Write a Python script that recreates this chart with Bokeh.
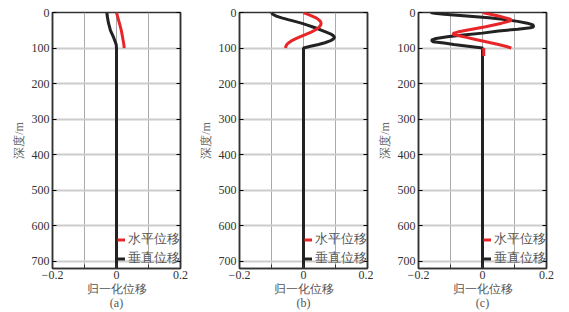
from bokeh.plotting import figure
from bokeh.layouts import row
from bokeh.models import (Range1d, FixedTicker, LinearAxis, Legend, LegendItem,
                          CustomJSTickFormatter)
from bokeh.embed import file_html
from bokeh.resources import INLINE

# ---------------- data ----------------
x_label = "归一化位移"
y_label = "深度/m"
legend_h = "水平位移"
legend_v = "垂直位移"
panel_tags = ["(a)", "(b)", "(c)"]
x_ticks = [-0.2, 0, 0.2]
x_minor = [-0.1, 0.1]
y_ticks = [0, 100, 200, 300, 400, 500, 600, 700]

# panel (a)
a_h_depth = [0, 10, 20, 30, 40, 50, 60, 70, 80, 90, 100]
a_h_disp = [0, 0.003, 0.006, 0.009, 0.012, 0.015, 0.017, 0.019, 0.021, 0.023, 0.024]
a_v_depth = [0, 10, 20, 30, 40, 50, 60, 70, 80, 90, 100, 720]
a_v_disp = [-0.030, -0.029, -0.027, -0.025, -0.022, -0.019, -0.014, -0.009, -0.005, -0.001, 0, 0]

# panel (b)
b_h_depth = [0, 5, 10, 15, 20, 25, 30, 35, 40, 45, 50, 55, 60, 65, 70, 75, 80, 85, 90, 95, 100]
b_h_disp = [0, 0.014, 0.027, 0.039, 0.047, 0.053, 0.055, 0.054, 0.050, 0.044, 0.035, 0.024,
            0.011, -0.002, -0.015, -0.027, -0.038, -0.046, -0.052, -0.055, -0.056]
b_v_depth = [0, 5, 10, 15, 20, 25, 30, 35, 40, 45, 50, 55, 60, 65, 70, 75, 80, 85, 90, 95, 100, 720]
b_v_disp = [-0.100, -0.096, -0.085, -0.068, -0.048, -0.027, -0.007, 0.010, 0.027, 0.043, 0.057,
            0.071, 0.084, 0.093, 0.097, 0.093, 0.083, 0.067, 0.047, 0.022, 0, 0]

# panel (c)
c_h_depth = [0, 5, 10, 15, 19, 22, 25, 30, 35, 40, 45, 50, 55, 59, 62, 66, 70, 75, 80, 85, 90, 95, 100]
c_h_disp = [0, 0.025, 0.050, 0.072, 0.087, 0.090, 0.082, 0.060, 0.035, 0.010, -0.020, -0.050,
            -0.078, -0.092, -0.090, -0.070, -0.050, -0.025, 0.0, 0.025, 0.050, 0.072, 0.090]
c_h2_depth = [100, 122]
c_h2_disp = [0.004, 0.004]
c_v_depth = [0, 2, 5, 10, 15, 20, 25, 30, 35, 40, 43, 47, 52, 58, 63, 68, 73, 78, 82, 86, 90, 95, 100, 720]
c_v_disp = [-0.162, -0.150, -0.120, -0.050, 0.020, 0.070, 0.110, 0.140, 0.158, 0.160, 0.150, 0.110,
            0.050, 0.0, -0.060, -0.110, -0.145, -0.160, -0.155, -0.120, -0.090, -0.045, 0, 0]

RED = "#e8262a"
BLACK = "#222222"
SERIF = "Liberation Serif"

fmt = CustomJSTickFormatter(code="""
if (Math.abs(tick) < 1e-9) return '0';
return (tick < 0 ? '\u2212' : '') + Math.abs(tick).toFixed(1);
""")
blank = CustomJSTickFormatter(code="return '';")


def make_panel(h_sets, v_d, v_x, tag, left, right):
    p = figure(width=left + 128 + right, height=312,
               x_range=Range1d(-0.2, 0.2), y_range=Range1d(720, 0),
               output_backend="svg", toolbar_location=None,
               min_border_left=left, min_border_right=right,
               min_border_top=12, min_border_bottom=40)
    p.background_fill_color = "white"
    p.border_fill_color = "white"
    p.outline_line_color = "#333333"
    p.outline_line_width = 1.5

    # x axis
    xa = p.xaxis[0]
    xa.ticker = FixedTicker(ticks=x_ticks, minor_ticks=x_minor)
    xa.formatter = fmt
    xa.major_tick_in = 4
    xa.major_tick_out = 0
    xa.minor_tick_in = 4
    xa.minor_tick_out = 0
    xa.major_label_standoff = 2
    xa.major_label_text_font = SERIF
    xa.major_label_text_font_size = "12px"
    xa.major_label_text_color = "#333333"
    xa.axis_line_color = "#333333"
    xa.axis_line_width = 1.5
    xa.major_tick_line_color = "#333333"
    xa.minor_tick_line_color = "#333333"
    xa.axis_label = x_label + "\n" + tag
    xa.axis_label_text_font = SERIF
    xa.axis_label_text_font_size = "12px"
    xa.axis_label_text_font_style = "normal"
    xa.axis_label_text_color = "#555555"
    xa.axis_label_text_line_height = 1.0
    xa.axis_label_standoff = 0

    # y axis
    ya = p.yaxis[0]
    ya.ticker = FixedTicker(ticks=y_ticks)
    ya.major_tick_in = 4
    ya.major_tick_out = 0
    ya.minor_tick_line_color = None
    ya.major_label_standoff = 3
    ya.major_label_text_font = SERIF
    ya.major_label_text_font_size = "12px"
    ya.major_label_text_color = "#333333"
    ya.axis_line_color = "#333333"
    ya.axis_line_width = 1.5
    ya.axis_label = y_label
    ya.axis_label_text_font = SERIF
    ya.axis_label_text_font_size = "12px"
    ya.axis_label_text_font_style = "normal"
    ya.axis_label_text_color = "#666666"
    ya.axis_label_standoff = 3

    # right axis (ticks only)
    ra = LinearAxis(ticker=FixedTicker(ticks=y_ticks), formatter=blank,
                    major_tick_in=4, major_tick_out=0,
                    minor_tick_line_color=None, major_label_standoff=0,
                    axis_line_color="#333333", axis_line_width=1.5)
    p.add_layout(ra, "right")

    # grids
    p.xgrid.ticker = FixedTicker(ticks=[-0.1, 0, 0.1])
    p.xgrid.grid_line_color = "#aaaaaa"
    p.xgrid.grid_line_width = 1
    p.ygrid.ticker = FixedTicker(ticks=y_ticks)
    p.ygrid.grid_line_color = "#cccccc"
    p.ygrid.grid_line_width = 2

    # lines
    rv = p.line(v_x, v_d, line_color=BLACK, line_width=3)
    rh = None
    for hd, hx in h_sets:
        r = p.line(hx, hd, line_color=RED, line_width=3)
        if rh is None:
            rh = r

    leg = Legend(items=[LegendItem(label=legend_h, renderers=[rh]),
                        LegendItem(label=legend_v, renderers=[rv])],
                 location="bottom_right", orientation="vertical",
                 background_fill_alpha=0, border_line_color=None,
                 margin=0, padding=2, spacing=0,
                 glyph_width=8, glyph_height=19, label_height=19,
                 label_standoff=3,
                 label_text_font=SERIF, label_text_font_size="12.5px",
                 label_text_color="#555555")
    p.add_layout(leg, "center")
    return p


pa = make_panel([(a_h_depth, a_h_disp)], a_v_depth, a_v_disp, panel_tags[0], 52, 13)
pb = make_panel([(b_h_depth, b_h_disp)], b_v_depth, b_v_disp, panel_tags[1], 46, 6)
pc = make_panel([(c_h_depth, c_h_disp), (c_h2_depth, c_h2_disp)], c_v_depth, c_v_disp,
                panel_tags[2], 45, 15)

layout = row(pa, pb, pc)
open("out.html", "w").write(file_html(layout, INLINE))
